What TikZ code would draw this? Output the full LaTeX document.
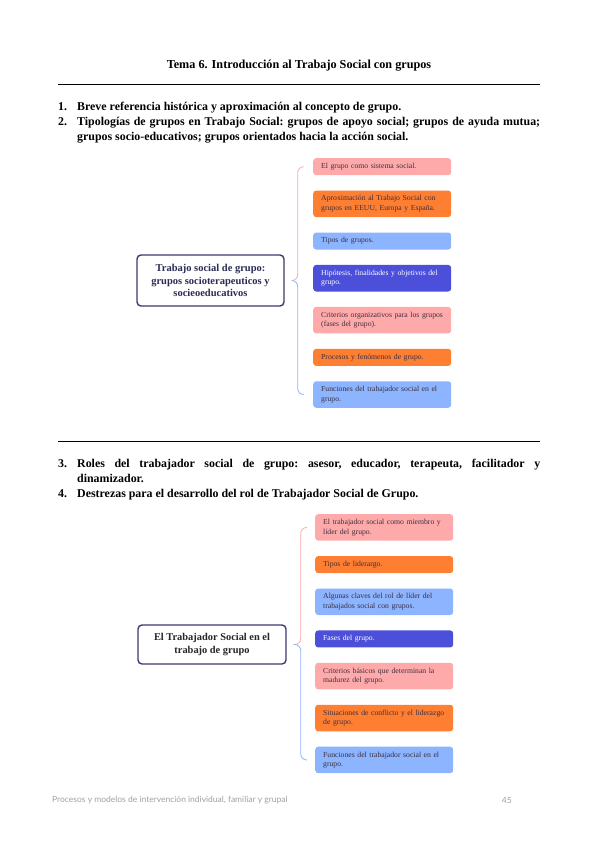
\documentclass[tikz,border=0pt]{standalone}
\usepackage{fontspec}
\setmainfont{Liberation Serif}
\newfontfamily\footfont{Lato}
\usepackage{tikz}
\usetikzlibrary{positioning,calc}
\definecolor{pinkbox}{HTML}{FFAAAA}
\definecolor{orangebox}{HTML}{FF7F32}
\definecolor{bluebox}{HTML}{8CB4FF}
\definecolor{violetbox}{HTML}{4B4FD9}
\definecolor{navy}{HTML}{3A3A70}
\definecolor{navytext}{HTML}{2B2B55}
\definecolor{boxtext}{HTML}{3D3040}
\definecolor{footgray}{HTML}{A0A0A0}

\begin{document}
\begin{tikzpicture}[x=1pt,y=-1pt,
  hd/.style={font=\fontsize{12.2}{14}\selectfont\bfseries},
  it/.style={anchor=north west,inner sep=0pt,text width=482pt,align=justify,
             font=\fontsize{11.9}{15}\selectfont\bfseries\frenchspacing},
  cen/.style={draw=navy,line width=1.4pt,rounded corners=4pt,fill=white,
              text=navytext,font=\fontsize{10.5}{12.5}\selectfont\bfseries,
              align=center,minimum width=147pt},
  g/.style={rounded corners=3pt,inner xsep=8pt,inner ysep=5pt,text width=122pt,
            align=left,minimum height=17pt,text=boxtext,
            font=\fontsize{7.7}{9.5}\selectfont},
  pk/.style={g,fill=pinkbox},
  og/.style={g,fill=orangebox},
  lb/.style={g,fill=bluebox},
  vi/.style={g,fill=violetbox,text=white},
  br/.style={line width=0.8pt,rounded corners=6pt},
  ft/.style={font=\footfont\fontsize{8.5}{10}\selectfont,text=footgray,inner sep=0pt},
  node distance=15pt]
\useasboundingbox (0,0) rectangle (599,848);
% header
\node[hd] (title) at (299,66) {Tema 6. Introducción al Trabajo Social con grupos};
\draw[line width=0.7pt] (58,84) -- (540,84);
\node[it] (i12) at (58,101.5) {%
  \leftskip=19pt
  \hspace*{-19pt}\makebox[19pt][l]{1.}Breve referencia histórica y aproximación al concepto de grupo.\par
  \hspace*{-19pt}\makebox[19pt][l]{2.}Tipologías de grupos en Trabajo Social: grupos de apoyo social; grupos de ayuda mutua;\linebreak grupos socio-educativos; grupos orientados hacia la acción social.\par};
% first map
\node[pk,anchor=north west] (a1) at (313,158) {El grupo como sistema social.};
\node[og,below=of a1] (a2) {Aproximación al Trabajo Social con\\grupos en EEUU, Europa y España.};
\node[lb,below=of a2] (a3) {Tipos de grupos.};
\node[vi,below=of a3] (a4) {Hipótesis, finalidades y objetivos del\\grupo.};
\node[pk,below=of a4] (a5) {Criterios organizativos para los grupos\\(fases del grupo).};
\node[og,below=of a5] (a6) {Procesos y fenómenos de grupo.};
\node[lb,below=of a6] (a7) {Funciones del trabajador social en el\\grupo.};
\node[cen,minimum height=51pt] (m1) at (210.5,280.5)
     {Trabajo social de grupo:\\grupos socioterapeuticos y\\socieoeducativos};
\coordinate (m1r) at ($(m1.east)+(7pt,0)$);
\draw[br,pinkbox] ([xshift=-10pt]a1.west) -| ($(m1r)+(6pt,0)$) -- (m1r);
\draw[br,bluebox] (m1r) -- ($(m1r)+(6pt,0)$) |- ([xshift=-10pt]a7.west);
% second part
\draw[line width=0.7pt] (58,441) -- (540,441);
\node[it] (i34) at (58,458.5) {%
  \leftskip=19pt
  \hspace*{-19pt}\makebox[19pt][l]{3.}Roles del trabajador social de grupo: asesor, educador, terapeuta, facilitador y\linebreak dinamizador.\par
  \hspace*{-19pt}\makebox[19pt][l]{4.}Destrezas para el desarrollo del rol de Trabajador Social de Grupo.\par};
% second map
\node[pk,anchor=north west] (b1) at (315,514) {El trabajador social como miembro y\\líder del grupo.};
\node[og,below=of b1] (b2) {Tipos de liderargo.};
\node[lb,below=of b2] (b3) {Algunas claves del rol de líder del\\trabajados social con grupos.};
\node[vi,below=of b3] (b4) {Fases del grupo.};
\node[pk,below=of b4] (b5) {Criterios básicos que determinan la\\madurez del grupo.};
\node[og,below=of b5] (b6) {Situaciones de conflicto y el liderazgo\\de grupo.};
\node[lb,below=of b6] (b7) {Funciones del trabajador social en el\\grupo.};
\node[cen,minimum width=148pt,minimum height=39pt,text=black!85,
      font=\fontsize{10.4}{13.5}\selectfont\bfseries] (m2) at (212,644.5)
     {El Trabajador Social en el\\trabajo de grupo};
\coordinate (m2r) at ($(m2.east)+(7pt,0)$);
\draw[br,pinkbox] ([xshift=-8pt]b1.west) -| ($(m2r)+(7pt,0)$) -- (m2r);
\draw[br,bluebox] (m2r) -- ($(m2r)+(7pt,0)$) |- ([xshift=-8pt]b7.west);
% footer
\node[ft,anchor=west] (foot) at (52,800) {Procesos y modelos de intervención individual, familiar y grupal};
\node[ft,anchor=east] (pg) at (512,800) {45};
\end{tikzpicture}
\end{document}
